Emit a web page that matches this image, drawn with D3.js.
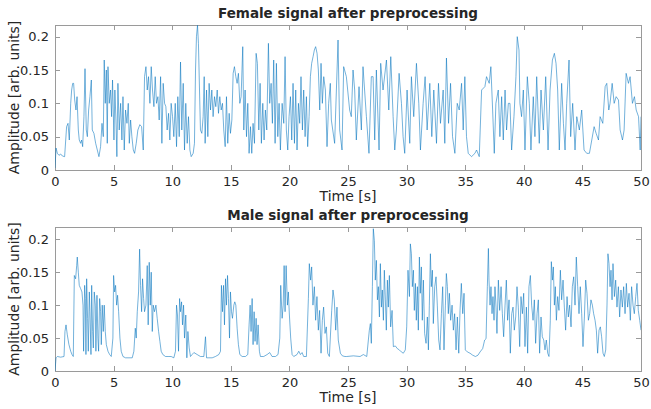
<!DOCTYPE html>
<html>
<head>
<meta charset="utf-8">
<script src="https://cdn.jsdelivr.net/npm/d3@7"></script>
<style>
body{margin:0;background:#fff;}
text{font-family:"DejaVu Sans",sans-serif;fill:#262626;}
</style>
</head>
<body>
<svg id="chart" width="651" height="409"></svg>
<script>
// time axis ticks (s) and amplitude ticks
const xTicks = [0,5,10,15,20,25,30,35,40,45,50];
const yTicks = [0,0.05,0.1,0.15,0.2];

// female signal
const femaleTime = [0,0.09,0.2,0.34,0.48,0.63,0.82,0.99,1.11,1.22,1.34,1.42,1.51,1.59,1.68,1.79,1.88,1.99,2.07,2.19,2.27,2.36,2.47,2.56,2.67,2.76,2.87,2.98,3.1,3.18,3.32,3.47,3.61,3.75,3.89,4.01,4.12,4.2,4.29,4.38,4.46,4.52,4.63,4.74,4.83,4.91,5.03,5.11,5.2,5.28,5.37,5.48,5.6,5.71,5.8,5.91,6.02,6.14,6.25,6.34,6.45,6.56,6.68,6.79,6.93,7.07,7.24,7.39,7.53,7.64,7.76,7.87,7.98,8.1,8.21,8.32,8.44,8.55,8.66,8.78,8.89,9.01,9.12,9.23,9.35,9.46,9.57,9.69,9.8,9.91,10.03,10.14,10.26,10.37,10.48,10.6,10.71,10.82,10.94,11.05,11.16,11.28,11.39,11.51,11.62,11.79,11.9,11.99,12.07,12.16,12.24,12.33,12.41,12.53,12.64,12.73,12.81,12.93,13.04,13.15,13.27,13.38,13.49,13.61,13.72,13.84,13.95,14.06,14.18,14.29,14.4,14.52,14.63,14.74,14.86,14.97,15.09,15.2,15.31,15.43,15.54,15.65,15.77,15.88,16.02,16.11,16.22,16.34,16.45,16.56,16.68,16.79,16.9,17.02,17.16,17.27,17.39,17.5,17.61,17.73,17.84,17.95,18.07,18.21,18.32,18.44,18.55,18.66,18.78,18.89,19.01,19.12,19.23,19.38,19.52,19.63,19.74,19.86,19.97,20.09,20.2,20.31,20.43,20.54,20.65,20.77,20.88,20.99,21.11,21.22,21.34,21.45,21.56,21.68,21.79,21.9,22.02,22.13,22.24,22.36,22.47,22.59,22.7,22.81,22.93,23.07,23.21,23.35,23.49,23.58,23.86,24.15,24.29,24.49,24.63,24.86,25.14,25.28,25.43,25.57,25.71,25.94,26.14,26.28,26.57,26.79,26.99,27.14,27.28,27.42,27.65,27.79,27.99,28.28,28.48,28.65,28.85,28.99,29.13,29.36,29.56,29.7,29.84,30.04,30.27,30.41,30.61,30.84,31.04,31.18,31.41,31.58,31.75,31.98,32.15,32.32,32.55,32.72,32.89,33.12,33.26,33.4,33.58,33.75,33.92,34.12,34.32,34.49,34.69,34.83,34.97,35.11,35.26,35.54,35.83,35.97,36.2,36.4,36.68,36.82,37.05,37.19,37.34,37.48,37.62,37.82,37.96,38.11,38.25,38.4,38.53,38.68,38.82,38.96,39.16,39.33,39.44,39.59,39.67,39.81,39.96,40.1,40.3,40.47,40.61,40.81,40.95,41.1,41.32,41.47,41.67,41.87,42.07,42.24,42.44,42.61,42.75,42.89,43.03,43.23,43.38,43.52,43.66,43.86,44,44.17,44.37,44.52,44.74,44.94,45.14,45.37,45.6,45.8,46,46.17,46.37,46.51,46.74,46.94,47.08,47.25,47.36,47.54,47.71,47.88,48.08,48.22,48.42,48.56,48.73,48.93,49.07,49.27,49.44,49.59,49.79,49.93,50];
const femaleAmp = [0.003,0.033,0.025,0.022,0.024,0.021,0.02,0.065,0.07,0.045,0.1,0.12,0.13,0.13,0.105,0.09,0.11,0.06,0.045,0.04,0.045,0.035,0.08,0.152,0.06,0.05,0.09,0.11,0.135,0.06,0.055,0.04,0.03,0.02,0.035,0.07,0.05,0.165,0.1,0.15,0.04,0.155,0.1,0.12,0.08,0.135,0.045,0.12,0.075,0.02,0.13,0.06,0.1,0.045,0.11,0.03,0.09,0.07,0.1,0.04,0.075,0.05,0.03,0.025,0.04,0.06,0.068,0.065,0.03,0.14,0.155,0.12,0.14,0.1,0.155,0.12,0.095,0.14,0.1,0.11,0.075,0.14,0.04,0.13,0.1,0.095,0.06,0.085,0.045,0.1,0.08,0.05,0.1,0.035,0.11,0.05,0.162,0.06,0.13,0.03,0.1,0.04,0.08,0.03,0.02,0.025,0.04,0.15,0.2,0.217,0.19,0.12,0.06,0.055,0.08,0.14,0.04,0.12,0.05,0.13,0.09,0.12,0.08,0.11,0.095,0.12,0.085,0.11,0.09,0.1,0.06,0.035,0.11,0.04,0.085,0.055,0.075,0.145,0.155,0.14,0.13,0.145,0.1,0.11,0.185,0.06,0.12,0.05,0.1,0.025,0.065,0.025,0.07,0.04,0.175,0.16,0.06,0.13,0.04,0.1,0.045,0.09,0.06,0.19,0.1,0.13,0.07,0.165,0.04,0.16,0.05,0.1,0.03,0.1,0.07,0.17,0.06,0.03,0.08,0.11,0.045,0.13,0.04,0.12,0.03,0.1,0.07,0.14,0.06,0.12,0.05,0.11,0.035,0.08,0.14,0.16,0.17,0.18,0.185,0.175,0.15,0.09,0.16,0.1,0.14,0.12,0.035,0.1,0.13,0.075,0.04,0.195,0.06,0.03,0.155,0.14,0.09,0.08,0.15,0.12,0.045,0.125,0.06,0.155,0.08,0.025,0.14,0.14,0.045,0.15,0.03,0.16,0.12,0.165,0.09,0.17,0.08,0.03,0.06,0.145,0.1,0.05,0.025,0.12,0.04,0.14,0.08,0.16,0.1,0.03,0.1,0.14,0.06,0.13,0.05,0.12,0.04,0.13,0.07,0.12,0.04,0.168,0.07,0.13,0.05,0.025,0.1,0.09,0.13,0.06,0.14,0.05,0.025,0.02,0.025,0.03,0.02,0.12,0.125,0.14,0.13,0.155,0.09,0.025,0.1,0.12,0.05,0.11,0.045,0.12,0.06,0.1,0.1,0.03,0.08,0.14,0.2,0.18,0.1,0.08,0.12,0.03,0.14,0.1,0.03,0.11,0.05,0.14,0.04,0.12,0.06,0.14,0.03,0.12,0.165,0.175,0.16,0.12,0.03,0.13,0.07,0.03,0.1,0.165,0.05,0.1,0.03,0.08,0.06,0.09,0.03,0.025,0.025,0.045,0.065,0.055,0.045,0.08,0.07,0.125,0.13,0.09,0.1,0.13,0.1,0.11,0.105,0.06,0.045,0.06,0.145,0.13,0.14,0.1,0.11,0.09,0.08,0.03,0.08];

// male signal
const maleTime = [0,0.09,0.2,0.48,0.77,0.85,0.94,1.05,1.19,1.34,1.45,1.56,1.65,1.76,1.85,1.9,1.99,2.07,2.19,2.3,2.39,2.44,2.53,2.59,2.64,2.7,2.78,2.84,2.93,2.98,3.07,3.13,3.21,3.27,3.35,3.44,3.49,3.58,3.66,3.72,3.81,3.89,3.95,4.03,4.12,4.2,4.29,4.38,4.52,4.66,4.8,4.94,5,5.09,5.17,5.26,5.34,5.43,5.54,5.65,5.8,6.02,6.31,6.59,6.73,6.85,6.93,7.02,7.13,7.22,7.3,7.39,7.47,7.56,7.64,7.76,7.87,7.95,8.04,8.13,8.21,8.3,8.38,8.49,8.61,8.72,8.84,8.95,9.06,9.2,9.43,9.72,9.91,10.14,10.28,10.37,10.45,10.54,10.63,10.71,10.8,10.88,10.97,11.05,11.16,11.25,11.34,11.45,11.56,11.7,11.85,12.13,12.41,12.7,12.84,12.93,13.13,13.41,13.69,13.98,14.12,14.2,14.29,14.38,14.46,14.55,14.63,14.72,14.8,14.89,14.97,15.06,15.14,15.26,15.34,15.43,15.54,15.65,15.77,15.97,16.25,16.45,16.56,16.65,16.73,16.82,16.9,16.99,17.07,17.16,17.24,17.33,17.44,17.53,17.81,18.1,18.32,18.52,18.81,19.03,19.18,19.26,19.38,19.47,19.55,19.63,19.72,19.83,19.91,20,20.11,20.23,20.37,20.65,20.8,20.94,21.08,21.22,21.45,21.62,21.7,21.81,21.9,22.01,22.13,22.24,22.35,22.47,22.58,22.7,22.81,22.92,23.04,23.15,23.27,23.41,23.61,23.72,23.83,23.95,24.06,24.17,24.35,24.52,24.74,24.89,25.46,26.03,26.31,26.6,26.82,26.91,26.99,27.08,27.16,27.25,27.33,27.42,27.51,27.59,27.68,27.76,27.85,27.93,28.02,28.1,28.19,28.27,28.36,28.44,28.53,28.64,28.76,28.87,29.04,29.21,29.38,29.55,29.72,29.89,30.01,30.12,30.24,30.32,30.41,30.49,30.58,30.66,30.75,30.83,30.92,31,31.09,31.17,31.26,31.34,31.43,31.54,31.66,31.77,31.86,31.94,32.03,32.11,32.2,32.28,32.4,32.51,32.62,32.74,32.85,32.97,33.08,33.19,33.31,33.39,33.48,33.56,33.65,33.76,33.88,33.99,34.1,34.22,34.33,34.45,34.56,34.67,34.79,34.9,35.01,35.18,35.41,35.64,35.87,36.09,36.27,36.49,36.66,36.78,36.89,36.98,37.03,37.12,37.2,37.29,37.37,37.46,37.54,37.63,37.71,37.83,37.94,38.06,38.17,38.28,38.4,38.51,38.62,38.74,38.85,38.97,39.08,39.19,39.31,39.42,39.53,39.65,39.76,39.88,39.99,40.1,40.22,40.33,40.44,40.56,40.67,40.79,40.9,41.01,41.13,41.24,41.35,41.47,41.58,41.7,41.81,41.92,42.04,42.15,42.26,42.35,42.44,42.52,42.61,42.69,42.78,42.89,43,43.12,43.23,43.35,43.46,43.57,43.69,43.8,43.91,44.03,44.14,44.26,44.37,44.48,44.6,44.71,44.82,44.94,45.05,45.17,45.28,45.39,45.51,45.62,45.73,45.85,45.96,46.08,46.19,46.3,46.42,46.53,46.64,46.76,46.87,46.99,47.1,47.18,47.27,47.36,47.44,47.53,47.61,47.73,47.84,47.95,48.07,48.18,48.29,48.41,48.52,48.64,48.75,48.86,48.98,49.09,49.2,49.32,49.43,49.55,49.66,49.77,49.89,50];
const maleAmp = [0,0.02,0.022,0.021,0.022,0.06,0.07,0.055,0.04,0.03,0.025,0.022,0.145,0.14,0.16,0.173,0.15,0.13,0.125,0.12,0.1,0.03,0.13,0.11,0.025,0.14,0.08,0.03,0.12,0.09,0.025,0.13,0.06,0.035,0.12,0.1,0.03,0.115,0.05,0.03,0.11,0.09,0.04,0.1,0.06,0.1,0.06,0.04,0.03,0.025,0.022,0.05,0.145,0.12,0.13,0.1,0.115,0.09,0.05,0.03,0.022,0.02,0.02,0.02,0.03,0.065,0.05,0.09,0.12,0.185,0.13,0.09,0.14,0.11,0.09,0.1,0.16,0.07,0.165,0.1,0.15,0.06,0.1,0.09,0.1,0.08,0.06,0.045,0.03,0.025,0.022,0.022,0.022,0.02,0.03,0.1,0.085,0.03,0.11,0.09,0.105,0.07,0.1,0.05,0.085,0.02,0.06,0.035,0.022,0.025,0.028,0.025,0.022,0.022,0.052,0.02,0.02,0.02,0.022,0.025,0.03,0.13,0.09,0.13,0.07,0.14,0.1,0.145,0.11,0.05,0.12,0.09,0.08,0.1,0.105,0.1,0.065,0.04,0.025,0.022,0.022,0.025,0.07,0.1,0.06,0.11,0.04,0.09,0.045,0.08,0.04,0.07,0.03,0.022,0.022,0.025,0.028,0.022,0.022,0.025,0.05,0.13,0.08,0.1,0.16,0.09,0.16,0.1,0.12,0.085,0.05,0.025,0.022,0.025,0.03,0.025,0.028,0.022,0.022,0.11,0.163,0.138,0.158,0.1,0.128,0.077,0.113,0.062,0.092,0.027,0.077,0.097,0.057,0.067,0.027,0.022,0.092,0.123,0.108,0.062,0.097,0.047,0.027,0.023,0.022,0.022,0.023,0.022,0.025,0.022,0.062,0.072,0.042,0.128,0.216,0.198,0.138,0.168,0.108,0.128,0.082,0.163,0.097,0.123,0.077,0.153,0.108,0.062,0.138,0.097,0.145,0.067,0.092,0.037,0.038,0.034,0.032,0.029,0.027,0.032,0.067,0.153,0.113,0.193,0.178,0.128,0.153,0.092,0.133,0.077,0.128,0.062,0.173,0.118,0.158,0.077,0.138,0.057,0.042,0.082,0.032,0.1,0.178,0.128,0.153,0.072,0.128,0.143,0.1,0.047,0.032,0.087,0.128,0.032,0.1,0.148,0.128,0.087,0.118,0.077,0.1,0.062,0.087,0.032,0.082,0.027,0.092,0.133,0.087,0.118,0.032,0.029,0.027,0.024,0.022,0.024,0.029,0.034,0.047,0.049,0.128,0.186,0.138,0.1,0.128,0.087,0.113,0.077,0.128,0.097,0.057,0.138,0.092,0.128,0.087,0.052,0.1,0.138,0.077,0.108,0.027,0.087,0.097,0.062,0.082,0.128,0.097,0.037,0.113,0.087,0.118,0.037,0.097,0.027,0.128,0.145,0.1,0.077,0.108,0.042,0.087,0.108,0.027,0.082,0.052,0.047,0.032,0.047,0.027,0.022,0.077,0.166,0.138,0.158,0.1,0.128,0.077,0.113,0.092,0.153,0.108,0.138,0.097,0.062,0.113,0.082,0.1,0.067,0.128,0.143,0.1,0.173,0.128,0.087,0.128,0.087,0.037,0.082,0.138,0.118,0.077,0.087,0.108,0.1,0.087,0.077,0.062,0.027,0.062,0.067,0.052,0.027,0.022,0.032,0.1,0.178,0.163,0.128,0.153,0.108,0.163,0.113,0.138,0.097,0.128,0.082,0.123,0.097,0.128,0.087,0.133,0.097,0.118,0.077,0.128,0.1,0.087,0.113,0.133,0.092,0.077,0.062];

const svg = d3.select('#chart');
const lineColor = '#0072BD';
const boxColor = '#9a9a9a';

function drawPanel(opt){
    let left = 55, right = 641;
    let x = d3.scaleLinear().domain([0,50]).range([left,right]);
    let y = d3.scaleLinear().domain([0,opt.yMax]).range([opt.bottom,opt.top]);
    let g = svg.append('g');

    // box
    g.append('rect').attr('x',left).attr('y',opt.top)
        .attr('width',right-left).attr('height',opt.bottom-opt.top)
        .attr('fill','#fff').attr('stroke',boxColor).attr('stroke-width',1)
        .attr('shape-rendering','crispEdges');

    // axes with inward ticks (MATLAB style), also mirrored on top/right
    let xb = g.append('g').attr('transform',`translate(0,${opt.bottom})`)
        .call(d3.axisBottom(x).tickValues(xTicks).tickSize(-5).tickPadding(7).tickFormat(d3.format('d')));
    let xt = g.append('g').attr('transform',`translate(0,${opt.top})`)
        .call(d3.axisTop(x).tickValues(xTicks).tickSize(-5).tickFormat(''));
    let yl = g.append('g').attr('transform',`translate(${left},0)`)
        .call(d3.axisLeft(y).tickValues(yTicks).tickSize(-5).tickPadding(6).tickFormat(d=>d===0?'0':String(d)));
    let yr = g.append('g').attr('transform',`translate(${right},0)`)
        .call(d3.axisRight(y).tickValues(yTicks).tickSize(-5).tickFormat(''));
    [xb,xt,yl,yr].forEach(a=>{
        a.select('.domain').remove();
        a.selectAll('line').attr('stroke',boxColor).attr('shape-rendering','crispEdges');
        a.selectAll('text').attr('font-size',13).attr('font-family','DejaVu Sans').attr('fill','#262626');
    });

    // signal
    let clipId = 'clip'+opt.id;
    g.append('clipPath').attr('id',clipId).append('rect')
        .attr('x',left).attr('y',opt.top).attr('width',right-left).attr('height',opt.bottom-opt.top);
    let pts = opt.t.map((d,i)=>[d,opt.v[i]]);
    g.append('path').datum(pts)
        .attr('clip-path',`url(#${clipId})`)
        .attr('fill','none').attr('stroke',lineColor).attr('stroke-width',0.55)
        .attr('stroke-linejoin','round')
        .attr('d',d3.line().x(d=>x(d[0])).y(d=>y(d[1])));

    // labels
    g.append('text').attr('x',(left+right)/2).attr('y',opt.top-7)
        .attr('text-anchor','middle').attr('font-size',13.5).attr('font-weight','bold')
        .attr('fill','#000').text(opt.title);
    g.append('text').attr('x',(left+right)/2).attr('y',opt.bottom+31)
        .attr('text-anchor','middle').attr('font-size',14).text('Time [s]');
    g.append('text').attr('transform',`translate(19,${(opt.top+opt.bottom)/2}) rotate(-90)`)
        .attr('text-anchor','middle').attr('font-size',14).text('Amplitude [arb. units]');
}

drawPanel({id:1, top:25, bottom:170, yMax:0.2175, t:femaleTime, v:femaleAmp, title:'Female signal after preprocessing'});
drawPanel({id:2, top:227, bottom:371, yMax:0.2186, t:maleTime, v:maleAmp, title:'Male signal after preprocessing'});
</script>
</body>
</html>
